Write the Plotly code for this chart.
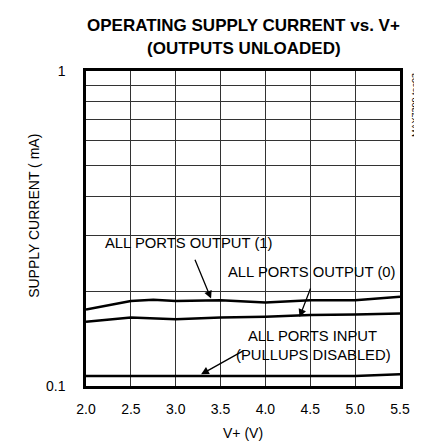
import plotly.graph_objects as go

# Data
v_out1 = [2.0, 2.5, 2.75, 3.0, 3.5, 4.0, 4.5, 5.0, 5.5]
i_out1 = [0.175, 0.186, 0.188, 0.186, 0.187, 0.184, 0.187, 0.187, 0.192]

v_out0 = [2.0, 2.5, 3.0, 3.5, 4.0, 4.5, 5.0, 5.5]
i_out0 = [0.160, 0.165, 0.163, 0.165, 0.166, 0.168, 0.1685, 0.170]

v_in = [2.0, 2.5, 3.0, 3.5, 4.0, 4.5, 5.0, 5.5]
i_in = [0.1076, 0.1076, 0.1076, 0.1076, 0.1076, 0.1076, 0.1076, 0.109]

x_ticks = [2.0, 2.5, 3.0, 3.5, 4.0, 4.5, 5.0, 5.5]
x_ticklabels = ["2.0", "2.5", "3.0", "3.5", "4.0", "4.5", "5.0", "5.5"]
y_grid = [0.1, 0.2, 0.3, 0.4, 0.5, 0.6, 0.7, 0.8, 0.9, 1.0]
y_ticklabels = ["0.1", "", "", "", "", "", "", "", "", "1"]

FONT = "Liberation Sans, Arial, sans-serif"

fig = go.Figure()
for xs, ys in [(v_out1, i_out1), (v_out0, i_out0), (v_in, i_in)]:
    fig.add_trace(go.Scatter(x=xs, y=ys, mode="lines",
                             line=dict(color="black", width=2.5),
                             showlegend=False, hoverinfo="skip"))

# arrows (y in log10 units for log axis)
arrows = [
    dict(x=3.394, y=-0.7225, ax=3.208, ay=-0.5946),
    dict(x=4.380, y=-0.781, ax=4.509, ay=-0.6857),
    dict(x=3.283, y=-0.9629, ax=3.763, ay=-0.8867),
]
for a in arrows:
    fig.add_annotation(x=a["x"], y=a["y"], ax=a["ax"], ay=a["ay"],
                       xref="x", yref="y", axref="x", ayref="y",
                       showarrow=True, arrowhead=2, arrowsize=1.2,
                       arrowwidth=1.3, arrowcolor="black", text="")

texts = [
    ("ALL PORTS OUTPUT (1)", 3.153, -0.547),
    ("ALL PORTS OUTPUT (0)", 4.517, -0.638),
    ("ALL PORTS INPUT", 4.53, -0.840),
    ("(PULLUPS DISABLED)", 4.54, -0.903),
]
for t, x, y in texts:
    fig.add_annotation(x=x, y=y, xref="x", yref="y", text=t, showarrow=False,
                       font=dict(family=FONT, size=14.8, color="black"))

# title lines
fig.add_annotation(x=0.503, y=1.146, xref="paper", yref="paper",
                   text="<b>OPERATING SUPPLY CURRENT vs. V+</b>", showarrow=False,
                   xanchor="center", yanchor="middle",
                   font=dict(family=FONT, size=17, color="black"))
fig.add_annotation(x=0.503, y=1.073, xref="paper", yref="paper",
                   text="<b>(OUTPUTS UNLOADED)</b>", showarrow=False,
                   xanchor="center", yanchor="middle",
                   font=dict(family=FONT, size=17, color="black"))
# axis titles
fig.add_annotation(x=-0.168, y=0.541, xref="paper", yref="paper",
                   text="SUPPLY CURRENT ( mA)", textangle=-90, showarrow=False,
                   xanchor="center", yanchor="middle",
                   font=dict(family=FONT, size=14, color="black"))
fig.add_annotation(x=0.499, y=-0.149, xref="paper", yref="paper",
                   text="V+ (V)", showarrow=False,
                   xanchor="center", yanchor="middle",
                   font=dict(family=FONT, size=14, color="black"))
fig.add_annotation(x=1.0, y=1.0, xref="paper", yref="paper", xshift=8,
                   text="MAX7300 toc03", textangle=-90, showarrow=False,
                   xanchor="left", yanchor="top",
                   font=dict(family=FONT, size=9, color="black"))

fig.update_layout(
    width=414, height=436,
    margin=dict(l=78, r=20, t=63, b=58),
    paper_bgcolor="white", plot_bgcolor="white",
    font=dict(family=FONT, size=14, color="black"),
)
fig.update_xaxes(range=[2.0, 5.5], tickvals=x_ticks, ticktext=x_ticklabels,
                 showgrid=True, gridcolor="#333", gridwidth=1,
                 showline=True, linecolor="black", linewidth=2.5, mirror=True,
                 ticks="", zeroline=False, ticklabelstandoff=8,
                 tickfont=dict(size=14))
fig.update_yaxes(type="log", range=[-1, 0], tickvals=y_grid, ticktext=y_ticklabels,
                 showgrid=True, gridcolor="#333", gridwidth=1,
                 showline=True, linecolor="black", linewidth=2.5, mirror=True,
                 ticks="", zeroline=False, ticklabelstandoff=15,
                 tickfont=dict(size=14))

fig.write_html("out.html")
